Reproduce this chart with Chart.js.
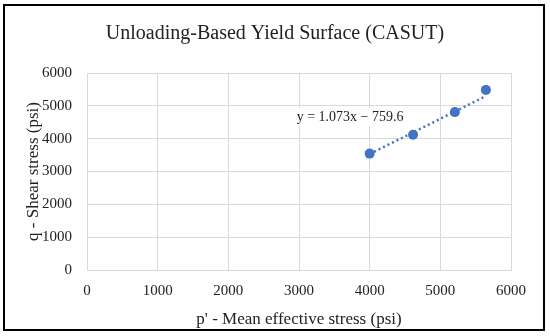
<!DOCTYPE html>
<html><head><meta charset="utf-8">
<script src="https://cdn.jsdelivr.net/npm/chart.js@4.4.0/dist/chart.umd.min.js"></script>
<style>html,body{margin:0;padding:0;background:#fff}#wrap{width:550px;height:336px;position:relative}</style>
</head><body><div id="wrap"><canvas id="c" width="550" height="336"></canvas></div>
<script>
const chartTitle = 'Unloading-Based Yield Surface (CASUT)';
const xAxisTitle = "p' - Mean effective stress (psi)";
const yAxisTitle = 'q - Shear stress (psi)';
const meanEffectiveStress = [4000, 4614, 5206, 5645];
const shearStress = [3545, 4121, 4809, 5485];
const trendSlope = 1.073;
const trendIntercept = -759.6;
const trendLabel = 'y = 1.073x \u2212 759.6';
const trendLabelAt = [3722, 4660];
const xTickValues = [0, 1000, 2000, 3000, 4000, 5000, 6000];
const yTickValues = [0, 1000, 2000, 3000, 4000, 5000, 6000];

const FONT = "'Liberation Serif', 'DejaVu Serif', serif";
const BLUE = '#4472C4';
const GRID = '#d9d9d9';

const points = meanEffectiveStress.map((x, i) => ({x, y: shearStress[i]}));
const xMinData = Math.min(...meanEffectiveStress);
const xMaxData = Math.max(...meanEffectiveStress);
const trendPoints = [xMinData, xMaxData].map(x => ({x, y: trendSlope * x + trendIntercept}));

const frame = {
  id: 'frame',
  beforeDraw(chart) {
    const ctx = chart.ctx;
    ctx.save();
    ctx.fillStyle = '#fff';
    ctx.fillRect(0, 0, chart.width, chart.height);
    ctx.strokeStyle = '#000';
    ctx.lineWidth = 2;
    ctx.strokeRect(4, 5, 540, 325);
    ctx.restore();
  }
};
const trendText = {
  id: 'trendText',
  afterDatasetsDraw(chart) {
    const ctx = chart.ctx;
    const xs = chart.scales.x, ys = chart.scales.y;
    const cx = xs.getPixelForValue(trendLabelAt[0]);
    const cy = ys.getPixelForValue(trendLabelAt[1]);
    ctx.save();
    ctx.font = '14px ' + FONT;
    const w = ctx.measureText(trendLabel).width;
    ctx.fillStyle = '#fff';
    ctx.fillRect(cx - w / 2 - 3, cy - 9, w + 6, 18);
    ctx.fillStyle = '#222';
    ctx.textAlign = 'center';
    ctx.textBaseline = 'middle';
    ctx.fillText(trendLabel, cx, cy);
    ctx.restore();
  }
};

new Chart(document.getElementById('c'), {
  type: 'scatter',
  data: {
    datasets: [
      {
        label: 'Data',
        data: points,
        backgroundColor: BLUE,
        borderColor: BLUE,
        pointRadius: 5,
        pointHoverRadius: 5,
        borderWidth: 0,
        order: 1
      },
      {
        label: 'Linear trend',
        type: 'line',
        data: trendPoints,
        borderColor: BLUE,
        borderWidth: 2.5,
        borderDash: [2, 3],
        pointRadius: 0,
        fill: false,
        order: 2
      }
    ]
  },
  options: {
    responsive: false,
    devicePixelRatio: 1,
    animation: false,
    layout: {padding: {top: 0, left: 39, right: 39, bottom: 6}},
    plugins: {
      legend: {display: false},
      tooltip: {enabled: false},
      title: {
        display: true,
        text: chartTitle,
        color: '#222',
        font: {family: FONT, size: 20, weight: 'normal'},
        padding: {top: 22, bottom: 27}
      }
    },
    scales: {
      x: {
        type: 'linear',
        min: 0, max: 6000,
        afterBuildTicks(s) { s.ticks = xTickValues.map(v => ({value: v})); },
        afterFit(s) { s.height = 60; },
        ticks: {
          stepSize: 1000,
          padding: 12,
          color: '#222',
          font: {family: FONT, size: 15},
          callback: v => String(v),
          maxRotation: 0
        },
        grid: {color: GRID, lineWidth: 1, drawTicks: false},
        border: {color: GRID, width: 1},
        title: {
          display: true, text: xAxisTitle, color: '#222',
          font: {family: FONT, size: 17}, padding: {top: 3, bottom: 0}
        }
      },
      y: {
        type: 'linear',
        min: 0, max: 6000,
        afterBuildTicks(s) { s.ticks = yTickValues.map(v => ({value: v})); },
        afterFit(s) { s.width = 48; },
        ticks: {
          stepSize: 1000,
          padding: 15,
          color: '#222',
          font: {family: FONT, size: 15},
          callback: v => String(v)
        },
        grid: {color: GRID, lineWidth: 1, drawTicks: false},
        border: {color: GRID, width: 1},
        title: {
          display: true, text: yAxisTitle, color: '#222',
          font: {family: FONT, size: 17}, padding: {top: -16, bottom: 0}
        }
      }
    }
  },
  plugins: [frame, trendText]
});
</script>
</body></html>
